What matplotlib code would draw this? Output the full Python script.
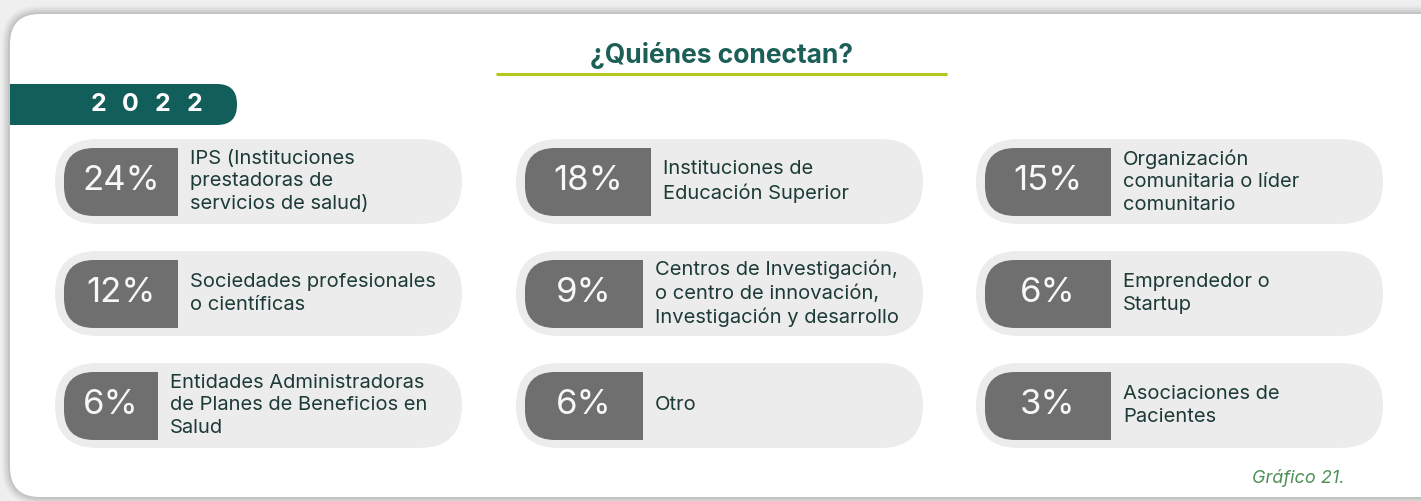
import matplotlib.pyplot as plt
from matplotlib.patches import FancyBboxPatch, Rectangle

# datos
percentages = [24, 18, 15, 12, 9, 6, 6, 6, 3]
labels = [
    "IPS (Instituciones\nprestadoras de\nservicios de salud)",
    "Instituciones de\nEducación Superior",
    "Organización\ncomunitaria o líder\ncomunitario",
    "Sociedades profesionales\no científicas",
    "Centros de Investigación,\no centro de innovación,\nInvestigación y desarrollo",
    "Emprendedor o\nStartup",
    "Entidades Administradoras\nde Planes de Beneficios en\nSalud",
    "Otro",
    "Asociaciones de\nPacientes",
]
title = "¿Quiénes conectan?"
year = "2022"
caption = "Gráfico 21."

# layout (pixeles)
W, H = 1421, 501
col_x = [55, 516, 976]
row_y = [139, 251, 363]
pill_w, pill_h = 407, 85
inner_w = [114, 126, 126, 114, 118, 126, 94, 118, 126]

TEAL = "#115e5b"
TEXT = "#1d3b36"
FONT = ["Inter", "DejaVu Sans"]

fig = plt.figure(figsize=(W / 100, H / 100), dpi=100, facecolor="#efefef")
ax = fig.add_axes([0, 0, 1, 1])
ax.set_xlim(0, W)
ax.set_ylim(H, 0)
ax.axis("off")

# sombra + tarjeta
for i, a in enumerate([0.03, 0.04, 0.05, 0.06]):
    pad = 8 - 2 * i
    ax.add_patch(FancyBboxPatch((10 - pad, 14 - pad), 1440 + 2 * pad, 483 + 2 * pad,
                                boxstyle=f"round,pad=0,rounding_size={30 + pad}",
                                fc="black", ec="none", alpha=a, zorder=1))
ax.add_patch(FancyBboxPatch((10, 14), 1440, 483, boxstyle="round,pad=0,rounding_size=30",
                            fc="white", ec="none", zorder=2))

# titulo
ax.text(721, 55, title, ha="center", va="center", fontsize=19, fontweight="bold",
        color="#1b5f57", family=FONT, zorder=3)
ax.plot([496, 947], [74, 74], color="#b5c71d", lw=2.2, solid_capstyle="butt", zorder=3)

# banda del año
ax.add_patch(FancyBboxPatch((10, 84), 227, 41, boxstyle="round,pad=0,rounding_size=20",
                            fc=TEAL, ec="none", zorder=3))
ax.add_patch(Rectangle((10, 84), 100, 41, fc=TEAL, ec="none", zorder=3))
for k, ch in enumerate(year):
    ax.text(98 + 32 * k, 104.5, ch, ha="center", va="center", fontsize=18, fontweight="bold",
            color="white", family=FONT, zorder=4)

for i, (p, lab) in enumerate(zip(percentages, labels)):
    x0 = col_x[i % 3]
    y0 = row_y[i // 3]
    ax.add_patch(FancyBboxPatch((x0, y0), pill_w, pill_h,
                                boxstyle=f"round,pad=0,rounding_size={pill_h / 2}",
                                fc="#ececec", ec="none", zorder=3))
    ix0 = x0 + 9
    iy0 = y0 + 9
    ih = pill_h - 17
    iw = inner_w[i]
    ax.add_patch(FancyBboxPatch((ix0, iy0), iw, ih, boxstyle="round,pad=0,rounding_size=30",
                                fc="#6f6f6f", ec="none", zorder=4))
    ax.add_patch(Rectangle((ix0 + 40, iy0), iw - 40, ih, fc="#6f6f6f", ec="none", zorder=4))
    ax.text(ix0 + iw / 2, y0 + pill_h / 2, f"{p}%", ha="center", va="center",
            fontsize=25, color="#f7f7f7", family=FONT, zorder=5)
    ax.text(ix0 + iw + 12, y0 + pill_h / 2, lab, ha="left", va="center", fontsize=14.5,
            color=TEXT, family=FONT, linespacing=1.33, zorder=5)

ax.text(1345, 478, caption, ha="right", va="center", fontsize=13, style="italic",
        color="#4f8f55", family=FONT, zorder=3)

fig.savefig("out.png", dpi=100, facecolor=fig.get_facecolor())
